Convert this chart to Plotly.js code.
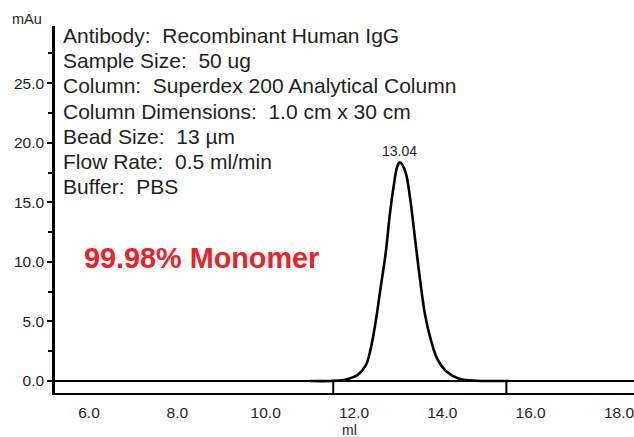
<!DOCTYPE html>
<html>
<head>
<meta charset="utf-8">
<script src="https://cdn.plot.ly/plotly-3.0.1.min.js"></script>
<style>html,body{margin:0;padding:0;background:#fff;}#chart{width:634px;height:437px;}</style>
</head>
<body>
<div id="chart"></div>
<script>
// ---- data ----
var elutionVolume = [11.0, 11.47, 11.77, 12.08, 12.27, 12.38, 12.49, 12.60, 12.72, 12.81, 12.90, 12.98, 13.04,
                     13.16, 13.27, 13.39, 13.50, 13.61, 13.73, 13.88, 14.10, 14.40, 14.78, 15.07, 15.5];
var absorbance    = [0, 0, 0.08, 0.50, 1.34, 2.74, 4.96, 7.75, 10.8, 13.94, 16.4, 18.0, 18.35,
                     17.6, 15.35, 11.7, 8.37, 5.54, 3.59, 1.90, 0.78, 0.17, 0.02, 0, 0];
var fractionMarks = [11.53, 15.45];
var peakVolume = 13.04;
var peakHeight = 18.35;
var peakLabel = '13.04';
var xTickVals = [6, 8, 10, 12, 14, 16, 18];
var xTickText = ['6.0', '8.0', '10.0', '12.0', '14.0', '16.0', '18.0'];
var yTickVals = [0, 5, 10, 15, 20, 25];
var yTickText = ['0.0', '5.0', '10.0', '15.0', '20.0', '25.0'];
var infoLines = [
  'Antibody:  Recombinant Human IgG',
  'Sample Size:  50 ug',
  'Column:  Superdex 200 Analytical Column',
  'Column Dimensions:  1.0 cm x 30 cm',
  'Bead Size:  13 \u00b5m',
  'Flow Rate:  0.5 ml/min',
  'Buffer:  PBS'
];
var purityText = '99.98% Monomer';
var xTitle = 'ml';
var yTitle = 'mAu';

// ---- layout ----
var xRange = [5.23, 18.34];
var yRange = [-1.01, 29.8];
var txt = '#231f20';
var fontFam = '"Liberation Sans", Arial, Helvetica, sans-serif';

var annotations = [];
infoLines.forEach(function (t, i) {
  annotations.push({
    text: t, xref: 'paper', yref: 'paper', x: 0, y: 1,
    xanchor: 'left', yanchor: 'middle', xshift: 6, yshift: -(35.5 + i * 25.2 - 26),
    showarrow: false, font: {family: fontFam, size: 21, color: txt}
  });
});
annotations.push({
  text: '<b>' + purityText + '</b>', xref: 'paper', yref: 'paper', x: 0, y: 1,
  xanchor: 'left', yanchor: 'middle', xshift: 27, yshift: -(258 - 26),
  showarrow: false, font: {family: fontFam, size: 28.8, color: '#ec2227'}
});
annotations.push({
  text: peakLabel, xref: 'x', yref: 'y', x: peakVolume, y: peakHeight,
  xanchor: 'center', yanchor: 'middle', yshift: 11,
  showarrow: false, font: {family: fontFam, size: 14, color: txt}
});
annotations.push({
  text: yTitle, xref: 'paper', yref: 'paper', x: 0, y: 1,
  xanchor: 'center', yanchor: 'middle', xshift: -28, yshift: 7,
  showarrow: false, font: {family: fontFam, size: 14.5, color: txt}
});
annotations.push({
  text: xTitle, xref: 'paper', yref: 'paper', x: 0.5, y: 0,
  xanchor: 'center', yanchor: 'middle', xshift: 5, yshift: -37,
  showarrow: false, font: {family: fontFam, size: 14, color: txt}
});

var shapes = fractionMarks.map(function (m) {
  return {type: 'line', xref: 'x', yref: 'y', x0: m, x1: m, y0: 0, y1: yRange[0],
          line: {color: '#000', width: 2}};
});

var trace = {
  x: elutionVolume, y: absorbance, type: 'scatter', mode: 'lines',
  line: {color: '#000', width: 2.6, shape: 'spline', smoothing: 1},
  hoverinfo: 'skip'
};

var layout = {
  width: 634, height: 437,
  margin: {l: 55, r: 0, t: 26, b: 44, pad: 0},
  paper_bgcolor: '#fff', plot_bgcolor: '#fff',
  showlegend: false,
  font: {family: fontFam, color: txt, size: 13},
  xaxis: {
    range: xRange, showgrid: false, zeroline: false,
    showline: true, linecolor: '#000', linewidth: 2,
    ticks: '', tickvals: xTickVals, ticktext: xTickText,
    ticklabelstandoff: 4, ticklabeloverflow: 'allow',
    tickfont: {family: fontFam, size: 15.5, color: txt}
  },
  yaxis: {
    range: yRange, showgrid: false,
    zeroline: true, zerolinecolor: '#000', zerolinewidth: 2.5,
    showline: true, linecolor: '#000', linewidth: 2.8,
    ticks: 'outside', ticklen: 5, tickwidth: 2, tickcolor: '#000',
    tickvals: yTickVals, ticktext: yTickText,
    tickfont: {family: fontFam, size: 15.5, color: txt},
    minor: {dtick: 2.5, tick0: 0, ticks: 'outside', ticklen: 4, tickwidth: 2, tickcolor: '#000'}
  },
  annotations: annotations,
  shapes: shapes
};

Plotly.newPlot('chart', [trace], layout, {displayModeBar: false, staticPlot: true});
</script>
</body>
</html>
